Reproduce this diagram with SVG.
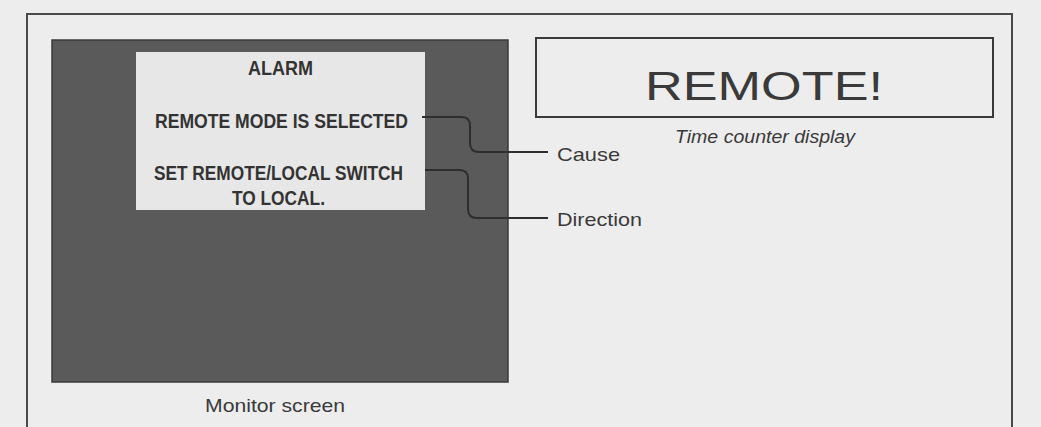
<svg xmlns="http://www.w3.org/2000/svg" width="1041" height="427" viewBox="0 0 1041 427">
<style>
.frame{fill:none;stroke:#4a4a4a;stroke-width:2}
.lead{fill:none;stroke:#2e2e2e;stroke-width:2}
.scr{font-family:"Liberation Sans",Arial,sans-serif;font-weight:bold;fill:#333;font-size:21px}
.lbl{font-family:"Liberation Sans",Arial,sans-serif;fill:#3a3a3a;font-size:19px}
</style>
<rect x="0" y="0" width="1041" height="427" fill="#ededed"/>
<path class="frame" d="M27,427 V14 H1012 V427"/>
<g id="monitor">
<rect x="52" y="40" width="456" height="342" fill="#5a5a5a" stroke="#3a3a3a" stroke-width="1.5"/>
<rect x="136" y="52" width="289" height="158" fill="#e7e7e7"/>
<text class="scr" x="280.5" y="75" text-anchor="middle" textLength="65" lengthAdjust="spacingAndGlyphs">ALARM</text>
<text class="scr" x="155" y="128" textLength="253" lengthAdjust="spacingAndGlyphs">REMOTE MODE IS SELECTED</text>
<text class="scr" x="154" y="180" textLength="249" lengthAdjust="spacingAndGlyphs">SET REMOTE/LOCAL SWITCH</text>
<text class="scr" x="232" y="205" textLength="93" lengthAdjust="spacingAndGlyphs">TO LOCAL.</text>
<text class="lbl" x="275" y="412" text-anchor="middle" textLength="140" lengthAdjust="spacingAndGlyphs">Monitor screen</text>
</g>
<g id="timecounter">
<rect x="536" y="38" width="457" height="79" fill="none" stroke="#3a3a3a" stroke-width="2"/>
<text x="764" y="100" text-anchor="middle" font-family="Liberation Sans,Arial,sans-serif" font-size="40" fill="#3a3a3a" textLength="238" lengthAdjust="spacingAndGlyphs">REMOTE!</text>
<text class="lbl" x="675" y="143" font-style="italic" font-size="17" textLength="180" lengthAdjust="spacingAndGlyphs">Time counter display</text>
</g>
<g id="cause">
<text class="lbl" x="557" y="161" textLength="63" lengthAdjust="spacingAndGlyphs">Cause</text>
</g>
<g id="direction">
<text class="lbl" x="557" y="226" textLength="85" lengthAdjust="spacingAndGlyphs">Direction</text>
</g>
<g id="connectors">
<path class="lead" d="M422,117 H462 Q470,117 470,126 V143 Q470,152 479,152 H548"/>
<path class="lead" d="M425,170 H460 Q468,170 468,179 V209 Q468,218 477,218 H548"/>
</g>
</svg>
